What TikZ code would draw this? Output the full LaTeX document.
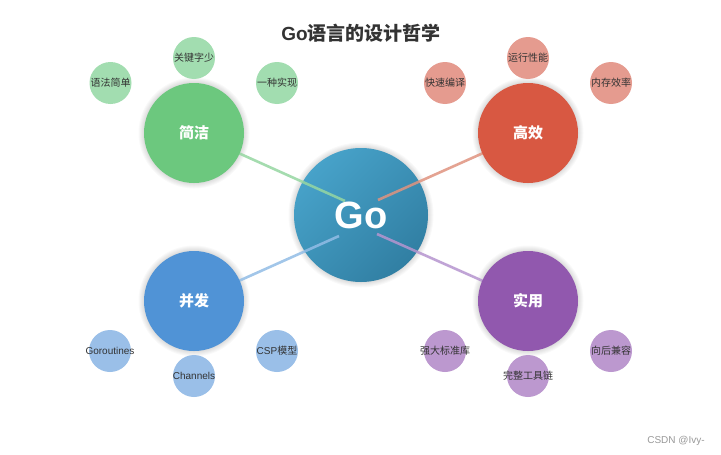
\documentclass[tikz,border=0pt]{standalone}
\usepackage{fontspec}
\setmainfont{Noto Sans CJK SC}
\newfontfamily\lat{Liberation Sans}
\definecolor{gA}{HTML}{6CC87E}\definecolor{gB}{HTML}{A2DDB0}\definecolor{gL}{HTML}{96D7A2}
\definecolor{rA}{HTML}{D85842}\definecolor{rB}{HTML}{E59B8F}\definecolor{rL}{HTML}{E0937F}
\definecolor{bA}{HTML}{5093D6}\definecolor{bB}{HTML}{9ABFE8}\definecolor{bL}{HTML}{92BDE6}
\definecolor{pA}{HTML}{9158AE}\definecolor{pB}{HTML}{BC98CF}\definecolor{pL}{HTML}{B695CF}
\definecolor{goA}{HTML}{47A2C9}\definecolor{goB}{HTML}{317FA3}
\definecolor{txt}{HTML}{333333}
\tikzset{
 shring/.style={fill=black, fill opacity=0.025, draw=none, yshift=-1.5pt},
 sm/.style={circle, minimum size=42pt, inner sep=0pt, fill=#1},
 mainc/.style={circle, minimum size=100pt, inner sep=0pt, fill=#1, text=white,
   font=\bfseries\fontsize{15}{15}\selectfont},
 smtxt/.style={font=\fontsize{10}{10}\selectfont, text=txt},
 conn/.style={line width=2.6pt, draw=#1, draw opacity=0.85}
}
\begin{document}
\begin{tikzpicture}[x=1pt,y=-1pt]
\useasboundingbox[fill=white] (0,0) rectangle (721,455);
\node[font=\bfseries\fontsize{19}{19}\selectfont, text=txt] (title) at (361,33) {{\lat Go}语言的设计哲学};
\coordinate (cGo) at (361,215);
\coordinate (cJ) at (194,133);
\coordinate (cG) at (528,133);
\coordinate (cB) at (194,301);
\coordinate (cS) at (528,301);
% soft shadows
\foreach \d in {0.5,1.5,...,5.5}{
  \fill[shring] (cGo) circle (67+\d);
  \fill[shring] (cJ) circle (50+\d);
  \fill[shring] (cG) circle (50+\d);
  \fill[shring] (cB) circle (50+\d);
  \fill[shring] (cS) circle (50+\d);
}
% center
\node[circle, minimum size=134pt, inner sep=0pt, top color=goA, bottom color=goB, shading angle=45] (go) at (cGo) {};
% connector ends
\coordinate (eJ) at (345,201);
\coordinate (eG) at (378,200);
\coordinate (eB) at (339,236);
\coordinate (eS) at (377,234);
\draw[conn=gL] (cJ) -- (eJ);
\draw[conn=rL] (cG) -- (eG);
\draw[conn=bL] (cB) -- (eB);
\draw[conn=pL] (cS) -- (eS);
\node[text=white, font=\lat\bfseries\fontsize{38}{38}\selectfont] (gotxt) at (go.center) {Go};
% main circles
\node[mainc=gA] (jj) at (cJ) {简洁};
\node[mainc=rA] (gx) at (cG) {高效};
\node[mainc=bA] (bf) at (cB) {并发};
\node[mainc=pA] (sy) at (cS) {实用};
% small circles
\node[sm=gB, label={[smtxt]center:语法简单}] (j1) at (110.5,83) {};
\node[sm=gB, label={[smtxt]center:关键字少}] (j2) at (194,58) {};
\node[sm=gB, label={[smtxt]center:一种实现}] (j3) at (277,83) {};
\node[sm=rB, label={[smtxt]center:快速编译}] (g1) at (445,83) {};
\node[sm=rB, label={[smtxt]center:运行性能}] (g2) at (528,58) {};
\node[sm=rB, label={[smtxt]center:内存效率}] (g3) at (611,83) {};
\node[sm=bB, label={[smtxt]center:{\lat Goroutines}}] (b1) at (110,351) {};
\node[sm=bB, label={[smtxt]center:{\lat Channels}}] (b2) at (194,376) {};
\node[sm=bB, label={[smtxt]center:{\lat CSP}模型}] (b3) at (277,351) {};
\node[sm=pB, label={[smtxt]center:强大标准库}] (s1) at (445,351) {};
\node[sm=pB, label={[smtxt]center:完整工具链}] (s2) at (528,376) {};
\node[sm=pB, label={[smtxt]center:向后兼容}] (s3) at (611,351) {};
% watermark
\node[font=\lat\fontsize{10}{10}\selectfont, text=black!40] (wm) at (676,441) {CSDN @Ivy-};
\end{tikzpicture}
\end{document}
